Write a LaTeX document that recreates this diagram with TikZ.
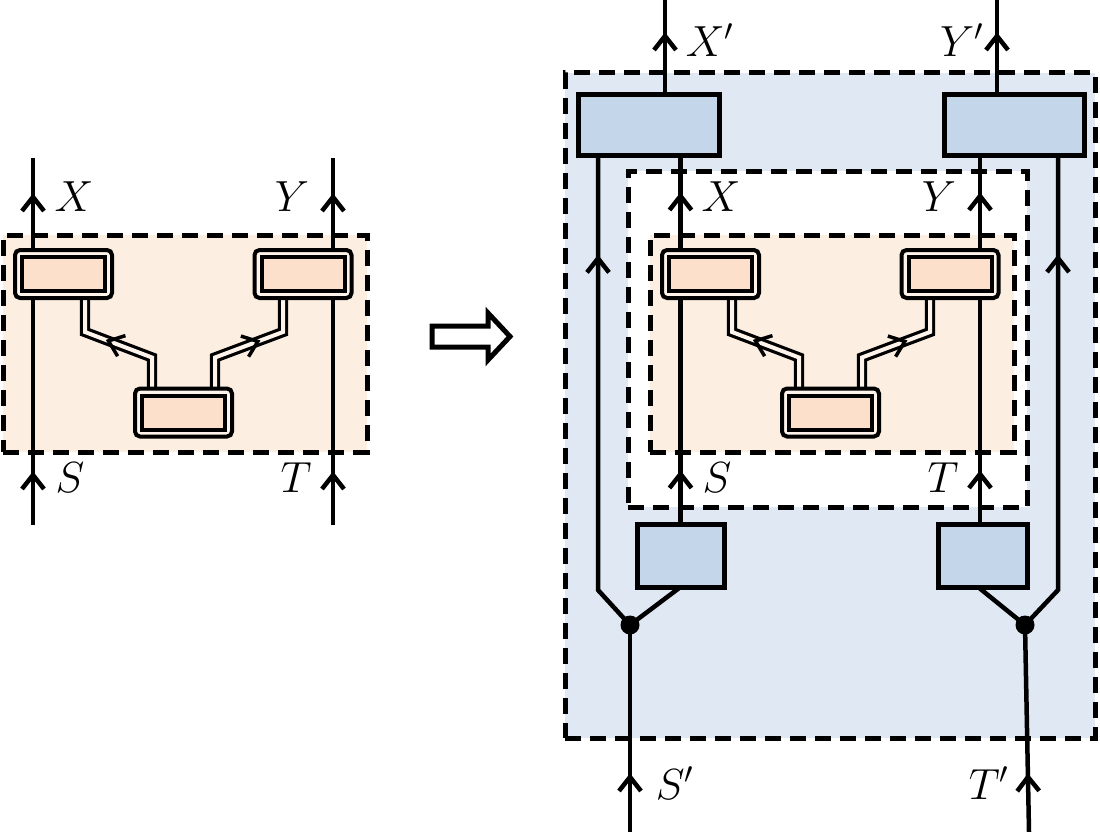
\documentclass[tikz,border=0pt]{standalone}
\usetikzlibrary{decorations.markings}

\definecolor{orbg}{HTML}{FDEEE2}
\definecolor{orring}{HTML}{FEF4EC}
\definecolor{orbox}{HTML}{FDE0CC}
\definecolor{blbg}{HTML}{DFE8F3}
\definecolor{blbox}{HTML}{C4D6EA}

\pgfdeclarelayer{regions}
\pgfdeclarelayer{wires}
\pgfsetlayers{regions,wires,main}

% open chevron arrow head, apex at the mark position
\newcommand{\chevron}[1]{\draw[line width=#1, line cap=butt, line join=miter] (-14pt,11pt) -- (0pt,0pt) -- (-14pt,-11pt);}
\newcommand{\mlab}[1]{\scalebox{2.1}{\huge$#1$}}

\tikzset{
  wire/.style={line width=4.5pt, line join=miter},
  chevat/.style={postaction={decorate, decoration={markings, mark=at position #1 with {\chevron{4.5pt}}}}},
  dchevat/.style={postaction={decorate, decoration={markings, mark=at position #1 with {\chevron{3.5pt}}}}},
  region/.style={draw, line width=5pt, dash pattern=on 16pt off 9pt, inner sep=0pt, outer sep=0pt},
  cbox/.style={draw, line width=4pt, rounded corners=5pt, fill=orring, inner sep=0pt, outer sep=0pt,
    minimum width=97pt, minimum height=48pt,
    path picture={\draw[sharp corners, line width=4pt, fill=orbox]
      ([shift={(7pt,7pt)}]path picture bounding box.south west) rectangle
      ([shift={(-7pt,-7pt)}]path picture bounding box.north east);}},
  bbox/.style={draw, line width=5pt, fill=blbox, inner sep=0pt, outer sep=0pt},
  dline/.style={line width=3.2pt, double=orring, double distance=4pt, line join=miter},
  junction/.style={circle, fill=black, inner sep=0pt, minimum size=19pt},
  lbl/.style={inner sep=0pt},
}

% three coupled boxes on a shaded dashed region, with labels X, Y, S, T
\newcommand{\coupling}[1]{%
  \begin{pgfonlayer}{regions}
    \node[region, fill=orbg, minimum width=364pt, minimum height=217pt] (#1reg) at (185,343.5) {};
  \end{pgfonlayer}
  \node[cbox] (#1A) at (63.5,274) {};
  \node[cbox] (#1B) at (303,274) {};
  \node[cbox] (#1C) at (183.5,412.5) {};
  \coordinate (#1p) at ([xshift=-31.5pt,yshift=31pt]#1C.north);
  \coordinate (#1q) at ([xshift=21.5pt,yshift=-34pt]#1A.south);
  \coordinate (#1r) at ([xshift=31.5pt,yshift=31pt]#1C.north);
  \coordinate (#1s) at ([xshift=-20pt,yshift=-34pt]#1B.south);
  \begin{pgfonlayer}{wires}
    \draw[dline] (#1C.north -| #1p) -- (#1p) -- (#1q) -- (#1q |- #1A.south);
    \draw[dline] (#1C.north -| #1r) -- (#1r) -- (#1s) -- (#1s |- #1B.south);
    \path[dchevat=0.65] (#1p) -- (#1q);
    \path[dchevat=0.63] (#1r) -- (#1s);
  \end{pgfonlayer}
  \node[lbl] (#1X) at (74,197) {\mlab{X}};
  \node[lbl] (#1Y) at (292,197) {\mlab{Y}};
  \node[lbl] (#1S) at (70,478) {\mlab{S}};
  \node[lbl] (#1T) at (296,478) {\mlab{T}};
}

\begin{document}
\begin{tikzpicture}[x=1pt, y=-1pt]
\useasboundingbox (0,0) rectangle (1100,832);

% ---------- left: the original coupling ----------
\coupling{L}
\coordinate (Lsb) at (33,525);
\coordinate (Lst) at (33,158);
\coordinate (Ltb) at (333,525);
\coordinate (Ltt) at (333,158);
\begin{pgfonlayer}{wires}
  \draw[wire, chevat=50pt, chevat=328pt] (Lsb) -- (Lst);
  \draw[wire, chevat=50pt, chevat=328pt] (Ltb) -- (Ltt);
\end{pgfonlayer}

% ---------- implication arrow ----------
\draw[line width=5pt, fill=white, line join=miter]
  (432,326) -- (488,326) -- (488,313) -- (510,336.5) -- (488,360) -- (488,347) -- (432,347) -- cycle;

% ---------- right: the extended coupling ----------
\begin{pgfonlayer}{regions}
  \node[region, fill=blbg, minimum width=530pt, minimum height=665pt] (Rout) at (830,405.5) {};
  \node[region, fill=white, minimum width=399pt, minimum height=336pt] (Rmid) at (827.5,339) {};
\end{pgfonlayer}
\begin{scope}[xshift=647pt]
  \coupling{I}
\end{scope}

\node[bbox, minimum width=141pt, minimum height=60pt] (TL) at (648.5,125) {};
\node[bbox, minimum width=140pt, minimum height=60pt] (TR) at (1014,125) {};
\node[bbox, minimum width=87pt, minimum height=63pt] (LB) at (680.5,555.5) {};
\node[bbox, minimum width=89pt, minimum height=63pt] (RB) at (982.5,555.5) {};
\node[junction] (DL) at (630,625) {};
\node[junction] (DR) at (1025,625) {};

\coordinate (Xtop) at (665,0);
\coordinate (Ytop) at (997,0);
\coordinate (Sbot) at (630,832);
\coordinate (Tbot) at (1029,832);
\coordinate (LK) at (598,590);
\coordinate (RK) at (1058,590);

\begin{pgfonlayer}{wires}
  % inner wires through the coupling
  \draw[wire, chevat=50pt, chevat=328pt] (LB.north) -- (LB.north |- TL.south);
  \draw[wire, chevat=50pt, chevat=328pt] ([xshift=-2.5pt]RB.north) -- ([xshift=-2.5pt]RB.north |- TR.south);
  % outer wires around it
  \draw[wire, chevat=379pt] (DL.center) -- (LK) -- (LK |- TL.south);
  \draw[wire, chevat=380pt] (DR.center) -- (RK) -- (RK |- TR.south);
  \draw[wire] (LB.south) -- (DL.center);
  \draw[wire] ([xshift=-4.5pt]RB.south) -- (DR.center);
  % input and output legs
  \draw[wire, chevat=55pt] (Sbot) -- (DL.center);
  \draw[wire, chevat=55pt] (Tbot) -- (DR.center);
  \draw[wire, chevat=59pt] (TL.north -| Xtop) -- (Xtop);
  \draw[wire, chevat=59pt] (TR.north -| Ytop) -- (Ytop);
\end{pgfonlayer}

\node[lbl] (Xp) at (710,40) {\mlab{X'}};
\node[lbl] (Yp) at (962,40) {\mlab{Y'}};
\node[lbl] (Sp) at (675,783) {\mlab{S'}};
\node[lbl] (Tp) at (989,783) {\mlab{T'}};
\end{tikzpicture}
\end{document}
